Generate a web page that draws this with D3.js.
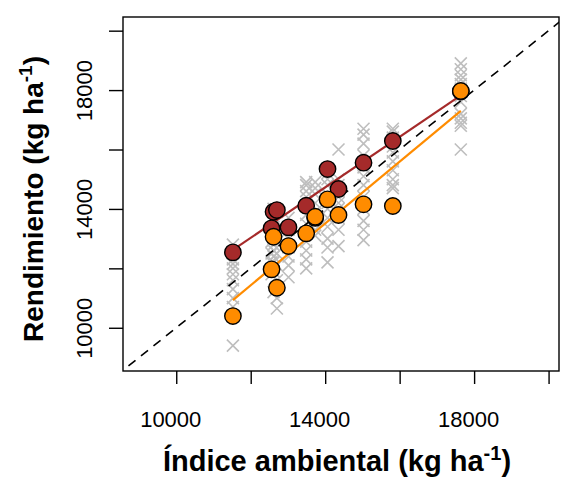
<!DOCTYPE html>
<html>
<head>
<meta charset="utf-8">
<script src="https://cdn.jsdelivr.net/npm/d3@7"></script>
<style>
  html, body { margin: 0; padding: 0; background: #fff; }
  svg { display: block; }
  text { font-family: "Liberation Sans", Arial, Helvetica, sans-serif; fill: #000; }
</style>
</head>
<body>
<svg id="chart" width="563" height="481"></svg>
<script>
// ---------------- data ----------------
const envIndex = [11522, 12560, 12613, 12703, 13015, 13490, 13732, 14063, 14358, 15030, 15817, 17643];
const yieldRed = [12539, 13347, 13906, 13963, 13380, 14108, 13700, 15343, 14670, 15556, 16286, 17950];
const yieldOrange = [10394, 11966, 13064, 11347, 12751, 13178, 13737, 14323, 13795, 14155, 14098, 17970];
const otherGenotypes = [
  [12800, 12500, 12300, 12150, 12000, 11800, 11600, 11300, 11000, 10700, 9400],
  [13300, 12900, 12500, 12200, 11800],
  [14000, 13700, 13400, 13200, 13000, 12800, 12600, 12400, 12200, 11900, 11200],
  [13900, 12900, 12500, 12100, 11600, 11000, 10650],
  [13700, 13300, 13000, 12700, 12400, 12100, 11700],
  [14900, 14800, 14600, 14400, 14100, 13800, 13500, 13200, 12900, 12600, 12300, 12000],
  [14900, 14700, 14500, 14200, 13900, 13600, 13300, 13100],
  [15200, 15000, 14800, 14500, 14200, 14000, 13700, 13400, 13000, 12700, 12200],
  [16000, 15000, 14800, 14600, 14400, 14200, 14000, 13700, 13300, 12750],
  [16700, 16500, 16200, 15800, 15400, 15100, 14800, 14400, 14000, 13600, 13300, 12950],
  [16700, 16600, 16400, 16100, 15900, 15600, 15300, 15000, 14800, 14700],
  [18900, 18700, 18500, 18350, 18200, 18050, 17800, 17600, 17200, 17050, 16900, 16800, 16000]
];
// fitted regression lines (yield = a + b * index)
const fitRed = { a: 12620 - 0.85 * 11522, b: 0.85 };
const fitOrange = { a: 10933 - 1.04 * 11522, b: 1.04 };
const xTicks = [10000, 12000, 14000, 16000, 18000, 20000];
const yTicks = [10000, 12000, 14000, 16000, 18000, 20000];
const tickLabels = [10000, 14000, 18000];

// ---------------- layout ----------------
const svg = d3.select("#chart");
const L = 123, R = 559, T = 17, B = 371;
const x = d3.scaleLinear().domain([8570, 20280]).range([L, R]);
const y = d3.scaleLinear().domain([8545, 20460]).range([B, T]);

svg.append("defs").append("clipPath").attr("id", "clip")
  .append("rect").attr("x", L).attr("y", T).attr("width", R - L).attr("height", B - T);

const plot = svg.append("g").attr("clip-path", "url(#clip)");

// gray crosses for other genotypes
const crosses = [];
envIndex.forEach((e, i) => otherGenotypes[i].forEach(v => crosses.push([e, v])));
const cs = 6;
const cg = plot.append("g").attr("stroke", "#BEBEBE").attr("stroke-width", 1.6);
crosses.forEach(([e, v]) => {
  const cx = x(e), cy = y(v);
  cg.append("path").attr("d", `M${cx - cs},${cy - cs}L${cx + cs},${cy + cs}M${cx - cs},${cy + cs}L${cx + cs},${cy - cs}`);
});

// 1:1 line
plot.append("line")
  .attr("x1", x(8570)).attr("y1", y(8570)).attr("x2", x(21000)).attr("y2", y(21000))
  .attr("stroke", "#000").attr("stroke-width", 1.6).attr("stroke-dasharray", "9,7")
  .attr("stroke-dashoffset", -7);

// regression lines
const [xmin, xmax] = d3.extent(envIndex);
[[fitRed, "#A52A2A"], [fitOrange, "#FF8C00"]].forEach(([f, col]) => {
  plot.append("line")
    .attr("x1", x(xmin)).attr("y1", y(f.a + f.b * xmin))
    .attr("x2", x(xmax)).attr("y2", y(f.a + f.b * xmax))
    .attr("stroke", col).attr("stroke-width", 2.2);
});

// highlighted genotypes
[[yieldRed, "#A52A2A"], [yieldOrange, "#FF8C00"]].forEach(([vals, col]) => {
  plot.append("g").selectAll("circle").data(vals).join("circle")
    .attr("cx", (d, i) => x(envIndex[i])).attr("cy", d => y(d)).attr("r", 8.2)
    .attr("fill", col).attr("stroke", "#000").attr("stroke-width", 1.4);
});

// box
svg.append("rect").attr("x", L).attr("y", T).attr("width", R - L).attr("height", B - T)
  .attr("fill", "none").attr("stroke", "#000").attr("stroke-width", 1.4);

// x axis
const xa = svg.append("g").attr("transform", `translate(0,${B})`)
  .call(d3.axisBottom(x).tickValues(xTicks).tickSize(13)
    .tickFormat(d => tickLabels.includes(d) ? d : ""));
xa.select(".domain").remove();
xa.selectAll(".tick line").attr("stroke-width", 1.4);
xa.selectAll(".tick text").attr("font-size", 22).attr("dy", null).attr("y", 56).attr("x", -6)
  .attr("font-family", "Liberation Sans, Arial, sans-serif");

// y axis
const ya = svg.append("g").attr("transform", `translate(${L},0)`)
  .call(d3.axisLeft(y).tickValues(yTicks).tickSize(14)
    .tickFormat(d => tickLabels.includes(d) ? d : ""));
ya.select(".domain").remove();
ya.selectAll(".tick line").attr("stroke-width", 1.4);
ya.selectAll(".tick text")
  .attr("font-size", 22).attr("font-family", "Liberation Sans, Arial, sans-serif")
  .attr("x", null).attr("dy", null).attr("text-anchor", "middle")
  .attr("transform", "translate(-31,0) rotate(-90)");

// axis titles
const xt = svg.append("text").attr("x", 337).attr("y", 471)
  .attr("text-anchor", "middle").attr("font-size", 29).attr("font-weight", "bold");
xt.append("tspan").text("Índice ambiental (kg ha");
xt.append("tspan").attr("font-size", 20).attr("dy", -11).text("-1");
xt.append("tspan").attr("dy", 11).text(")");

const yt = svg.append("text").attr("transform", `translate(43,${(T + B) / 2 + 5}) rotate(-90)`)
  .attr("text-anchor", "middle").attr("font-size", 28).attr("font-weight", "bold");
yt.append("tspan").text("Rendimiento (kg ha");
yt.append("tspan").attr("font-size", 19).attr("dy", -11).text("-1");
yt.append("tspan").attr("dy", 11).text(")");
</script>
</body>
</html>
